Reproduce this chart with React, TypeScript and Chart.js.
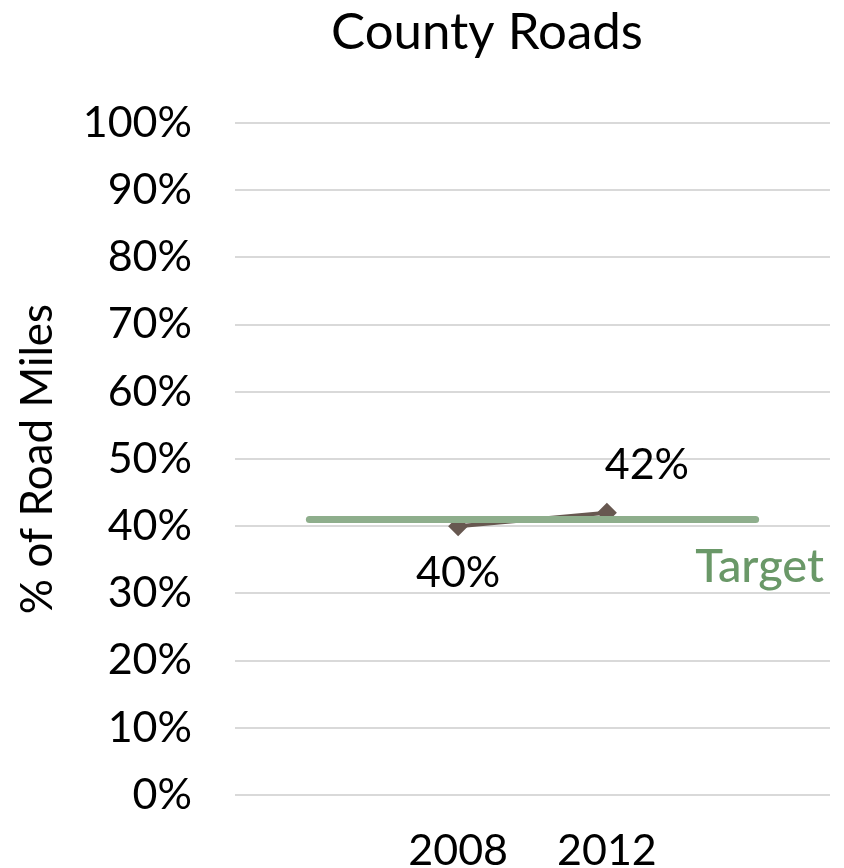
import React, { useEffect, useRef } from "react";
import { Chart, registerables } from "chart.js";

Chart.register(...registerables);

const categories = ["", "2008", "2012", ""];
const roadValues = [null, 40, 42, null];
const targetValues = [41, 41, 41, 41];
const yTicks = [0, 10, 20, 30, 40, 50, 60, 70, 80, 90, 100];
const titleText = "County Roads";
const yAxisTitle = "% of Road Miles";
const targetLabel = "Target";

const FONT = "Lato, 'Open Sans', sans-serif";

const labelPlugin = {
  id: "labelPlugin",
  afterDatasetsDraw(chart: any) {
    const ctx = chart.ctx;
    const meta = chart.getDatasetMeta(1);
    ctx.save();
    // title
    ctx.font = `51px ${FONT}`;
    ctx.fillStyle = "#000000";
    ctx.textAlign = "center";
    ctx.textBaseline = "middle";
    ctx.fillText(titleText, 487, 33);

    ctx.font = `43px ${FONT}`;
    const p1 = meta.data[1];
    const p2 = meta.data[2];
    if (p1) ctx.fillText(`${roadValues[1]}%`, p1.x, p1.y + 47);
    if (p2) ctx.fillText(`${roadValues[2]}%`, p2.x + 40, p2.y - 48);
    const tmeta = chart.getDatasetMeta(0);
    const last = tmeta.data[tmeta.data.length - 1];
    if (last) {
      ctx.font = `500 47px ${FONT}`;
      ctx.fillStyle = "#6a9868";
      ctx.textAlign = "right";
      ctx.fillText(targetLabel, chart.chartArea.right - 6, last.y + 47);
    }
    ctx.restore();
  },
};

export default function App() {
  const ref = useRef<HTMLCanvasElement | null>(null);
  useEffect(() => {
    if (!ref.current) return;
    const chart = new Chart(ref.current, {
      type: "line",
      data: {
        labels: categories,
        datasets: [
          {
            label: "Target",
            data: targetValues,
            borderColor: "#8eae8c",
            borderWidth: 7,
            borderCapStyle: "round",
            pointRadius: 0,
            fill: false,
          },
          {
            label: "County Roads",
            data: roadValues as any,
            borderColor: "#675850",
            backgroundColor: "#675850",
            borderWidth: 4,
            pointStyle: "rectRot",
            pointRadius: 10,
            pointBorderWidth: 0,
            fill: false,
          },
        ],
      },
      options: {
        animation: false,
        responsive: true,
        maintainAspectRatio: false,
        layout: { padding: { left: 0, right: 14, top: 123, bottom: 0 } },
        plugins: {
          legend: { display: false },
          tooltip: { enabled: false },
          title: { display: false },
        },
        scales: {
          x: {
            offset: true,
            grid: { display: false, drawTicks: false },
            border: { display: false },
            ticks: {
              color: "#000000",
              font: { family: FONT, size: 43 },
              padding: 30,
              maxRotation: 0,
              autoSkip: false,
            },
            afterFit(scale: any) {
              scale.height = 85;
            },
          },
          y: {
            min: 0,
            max: 100,
            afterBuildTicks(scale: any) {
              scale.ticks = yTicks.map((v) => ({ value: v }));
            },
            grid: { color: "#d9d9d9", lineWidth: 2, drawTicks: false },
            border: { display: false },
            ticks: {
              color: "#000000",
              font: { family: FONT, size: 43 },
              padding: 43,
              callback: (v: any) => `${v}%`,
            },
            title: {
              display: true,
              text: yAxisTitle,
              color: "#000000",
              font: { family: FONT, size: 44 },
              padding: { top: 11, bottom: 0 },
            },
            afterFit(scale: any) {
              scale.width = 235;
            },
          },
        },
      },
      plugins: [labelPlugin],
    });
    return () => chart.destroy();
  }, []);
  return (
    <div style={{ position: "absolute", left: 0, top: 0, width: 844, height: 880 }}>
      <canvas ref={ref} />
    </div>
  );
}
